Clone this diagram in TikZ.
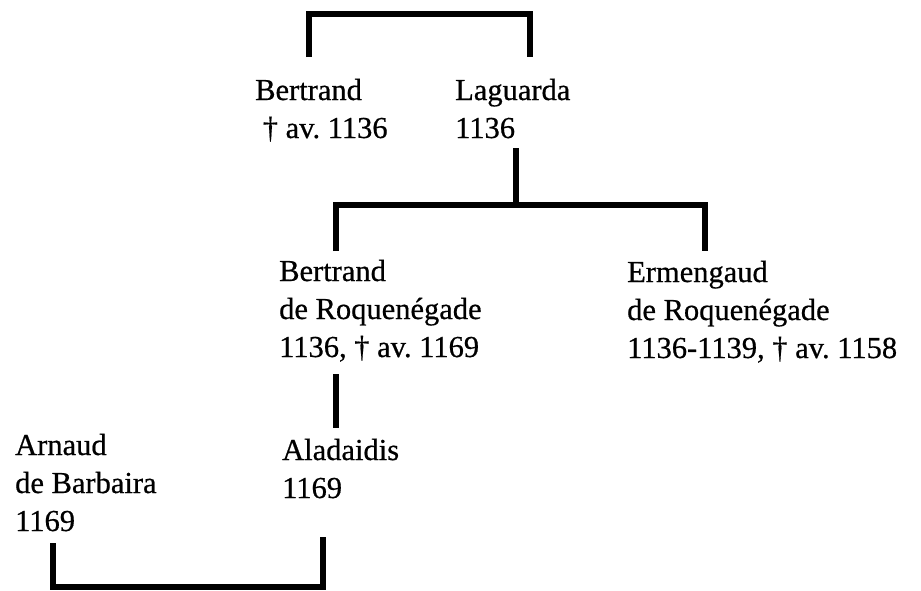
\documentclass[tikz,border=0pt]{standalone}
\usepackage{fontspec}
\setmainfont{Liberation Serif}
\newfontfamily\persfont[FakeBold=0.6]{Liberation Serif}
\frenchspacing
\begin{document}
\begin{tikzpicture}[x=1pt,y=-1pt,
  person/.style={anchor=base west,inner sep=0pt,
    font=\persfont\fontsize{30.5pt}{38pt}\selectfont},
  link/.style={line width=6pt,line join=miter,line cap=butt}]
\useasboundingbox (0,0) rectangle (921,590);
% persons, placed by the baseline of their first line
\node[person] (bertrand)  at (255,100) {\begin{tabular}[t]{@{}l@{}}Bertrand\\\hspace*{.25em}† av. 1136\end{tabular}};
\node[person] (laguarda)  at (455,100) {\begin{tabular}[t]{@{}l@{}}Laguarda\\1136\end{tabular}};
\node[person] (bertrandR) at (279,281) {\begin{tabular}[t]{@{}l@{}}Bertrand\\de Roquenégade\\1136, † av. 1169\end{tabular}};
\node[person] (ermengaud) at (627,282) {\begin{tabular}[t]{@{}l@{}}Ermengaud\\de Roquenégade\\1136-1139, † av. 1158\end{tabular}};
\node[person] (arnaud)    at (15,455)  {\begin{tabular}[t]{@{}l@{}}Arnaud\\de Barbaira\\1169\end{tabular}};
\node[person] (aladaidis) at (282,460) {\begin{tabular}[t]{@{}l@{}}Aladaidis\\1169\end{tabular}};
% line ends
\coordinate (mTopL) at (309,57);
\coordinate (mTopR) at (530,57);
\coordinate (cTop)  at (516,148);
\coordinate (cL)    at (336,251);
\coordinate (cR)    at (705,251);
\coordinate (dTop)  at (336,374);
\coordinate (dBot)  at (336,428);
\coordinate (mBotL) at (53,543);
\coordinate (mBotR) at (323,537);
% marriage of Bertrand and Laguarda
\draw[link] (mTopL) -- (mTopL |- 0,14) -- (mTopR |- 0,14) -- (mTopR);
% their children
\draw[link] (cTop) -- (cTop |- 0,205);
\draw[link] (cL) -- (cL |- 0,205) -- (cR |- 0,205) -- (cR);
% Bertrand de Roquenégade to Aladaidis
\draw[link] (dTop) -- (dBot);
% marriage of Arnaud and Aladaidis
\draw[link] (mBotL) -- (mBotL |- 0,587) -- (mBotR |- 0,587) -- (mBotR);
\end{tikzpicture}
\end{document}
